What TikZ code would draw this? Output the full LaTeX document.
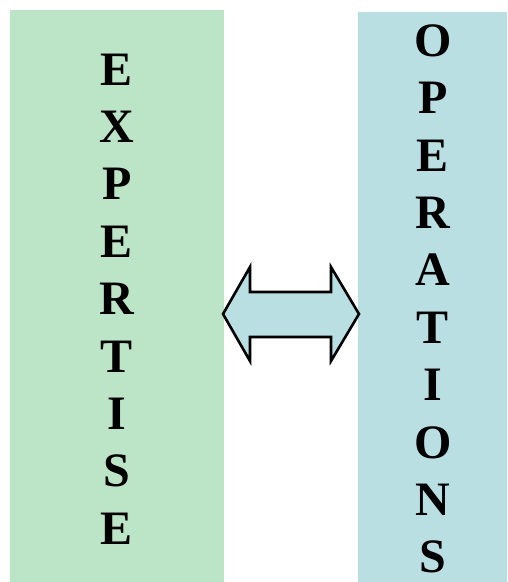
\documentclass[tikz,border=0pt]{standalone}
\usepackage{fontspec}
\setmainfont{Liberation Serif}
\definecolor{expgreen}{RGB}{188,228,198}
\definecolor{opcyan}{RGB}{186,223,227}
\tikzset{
  colbox/.style={draw=none, inner sep=0pt, outer sep=0pt},
  letters/.style={align=center, inner sep=0pt, font=\fontsize{48}{57.4}\selectfont\bfseries},
  dblarrow/.style={draw=black, line width=2.6pt, line join=miter, fill=opcyan}
}
\begin{document}
\begin{tikzpicture}[x=1pt, y=-1pt]
\useasboundingbox (0,0) rectangle (507,582);
\fill[white] (0,0) rectangle (507,582);
\node[colbox, fill=expgreen, minimum width=214pt, minimum height=572pt] (exp) at (117,296) {};
\node[colbox, fill=opcyan, minimum width=149pt, minimum height=570pt] (ops) at (432.5,297) {};
\node[letters] (exptext) at (117,299) {E\\X\\P\\E\\R\\T\\I\\S\\E};
\node[letters] (opstext) at (433,299) {O\\P\\E\\R\\A\\T\\I\\O\\N\\S};
\draw[dblarrow] (223,314) -- (250,267) -- (250,292) -- (331,292) -- (331,267) -- (359,314)
  -- (331,361) -- (331,337) -- (250,337) -- (250,361) -- cycle;
\end{tikzpicture}
\end{document}
